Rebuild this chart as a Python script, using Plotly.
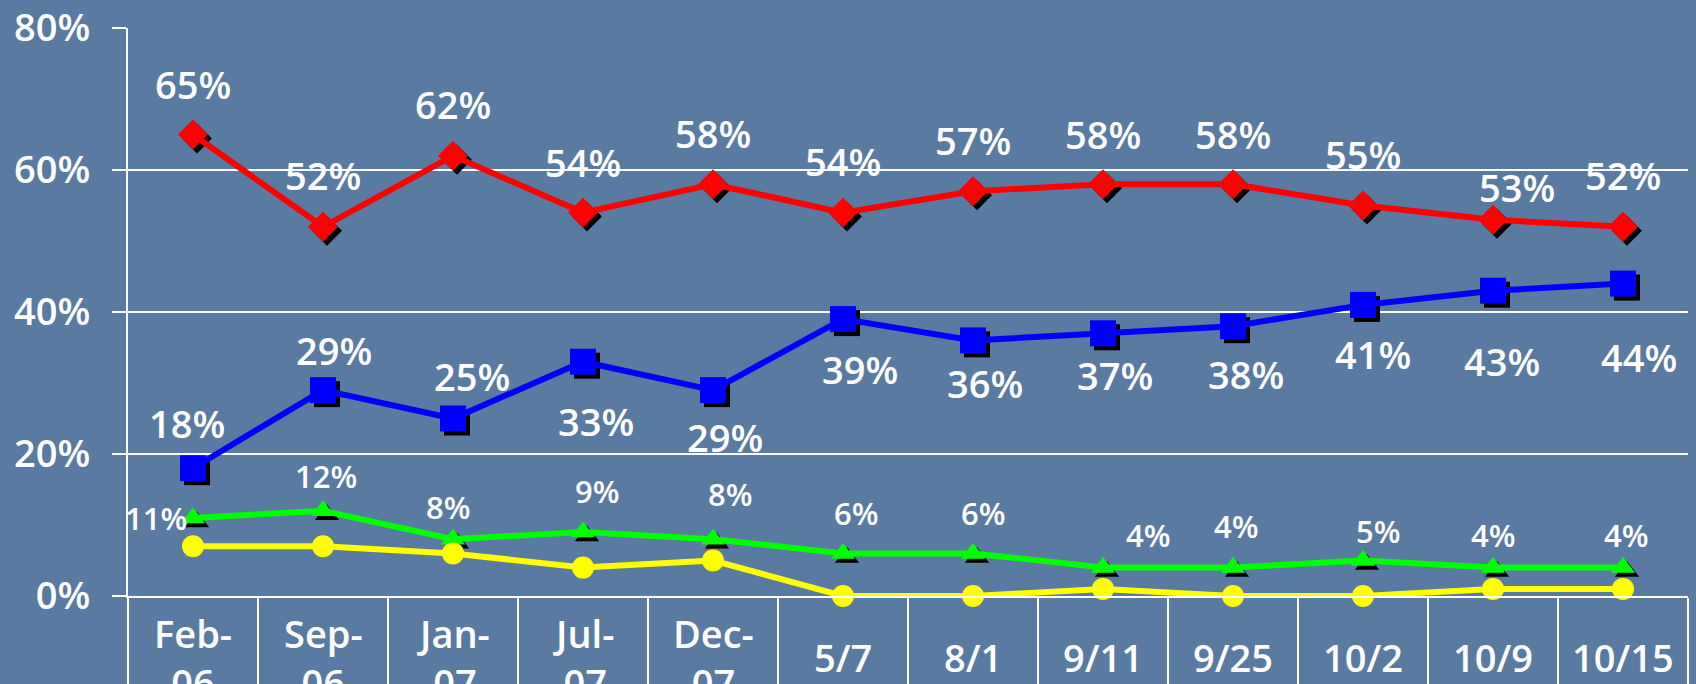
import plotly.graph_objects as go

# ---------------- data ----------------
categories = ["Feb-06", "Sep-06", "Jan-07", "Jul-07", "Dec-07", "5/7", "8/1",
              "9/11", "9/25", "10/2", "10/9", "10/15"]
tick_text = ["Feb-<br>06", "Sep-<br>06", "Jan-<br>07", "Jul-<br>07", "Dec-<br>07",
             "5/7", "8/1", "9/11", "9/25", "10/2", "10/9", "10/15"]
red_values = [65, 52, 62, 54, 58, 54, 57, 58, 58, 55, 53, 52]
blue_values = [18, 29, 25, 33, 29, 39, 36, 37, 38, 41, 43, 44]
green_values = [11, 12, 8, 9, 8, 6, 6, 4, 4, 5, 4, 4]
yellow_values = [7, 7, 6, 4, 5, 0, 0, 1, 0, 0, 1, 1]
y_ticks = [0, 20, 40, 60, 80]
y_tick_text = ["0%", "20%", "40%", "60%", "80%"]

# ---------------- label placement (pixel offsets, style only) ----------------
red_dx = [0, 0, 0, 0, 0, 0, 0, 0, 0, 0, 24, 0]
red_dy = [51, 52, 52, 51, 51, 52, 51, 50, 50, 52, 33, 52]
blue_dx = [-6, 11, 19, 13, 12, 17, 12, 12, 13, 10, 9, 16]
blue_dy = [45, 40, 43, -59, -47, -50, -43, -42, -48, -49, -70, -73]
green_dx = [-37, 3, -5, 14, 17, 13, 10, 45, 3, 15, 0, 3]
green_dy = [0, 35, 32, 41, 45, 40, 40, 33, 42, 30, 33, 33]

W, H = 1696, 684
ML, MR, MT, MB = 128, 8, 28, 88
PW, PH = W - ML - MR, H - MT - MB
Y_MIN, Y_MAX = 0, 80
n = len(categories)
X_RANGE = [-0.5, n - 0.5]

SHADOW_PX = 4
dx_units = SHADOW_PX * (X_RANGE[1] - X_RANGE[0]) / PW
dy_units = SHADOW_PX * (Y_MAX - Y_MIN) / PH

BG = "#5a7ba1"
FONT = "Open Sans"
WEIGHT = 600

fig = go.Figure()

# invisible anchor trace for base axes
fig.add_trace(go.Scatter(x=categories, y=[None] * n, mode="lines",
                         showlegend=False, hoverinfo="skip", xaxis="x", yaxis="y"))

series = [
    (red_values, "#ff0000", "diamond", 23, True),
    (blue_values, "#0000ff", "square", 26, True),
    (green_values, "#00ff00", "triangle-up", 21, True),
    (yellow_values, "#ffff00", "circle", 22, False),
]

# shadows (offset overlay axes)
for vals, col, sym, size, shadow in series:
    if shadow:
        fig.add_trace(go.Scatter(x=categories, y=vals, mode="markers",
                                 marker=dict(symbol=sym, size=size, color="black",
                                             line=dict(width=0)),
                                 xaxis="x2", yaxis="y2", cliponaxis=False,
                                 showlegend=False, hoverinfo="skip"))

# main series
for vals, col, sym, size, shadow in series:
    fig.add_trace(go.Scatter(x=categories, y=vals, mode="lines+markers",
                             line=dict(color=col, width=6),
                             marker=dict(symbol=sym, size=size, color=col,
                                         line=dict(width=0)),
                             xaxis="x3", yaxis="y3", cliponaxis=False,
                             showlegend=False, hoverinfo="skip"))

annotations = []
for vals, dxs, dys, fsize in [(red_values, red_dx, red_dy, 38),
                              (blue_values, blue_dx, blue_dy, 38),
                              (green_values, green_dx, green_dy, 31)]:
    for c, v, dx, dy in zip(categories, vals, dxs, dys):
        annotations.append(dict(x=c, y=v, xref="x", yref="y", text=f"{v}%",
                                showarrow=False, xshift=dx, yshift=dy,
                                xanchor="center", yanchor="middle",
                                font=dict(family=FONT, size=fsize, color="white",
                                          weight=WEIGHT)))

for c, t in zip(categories, tick_text):
    annotations.append(dict(x=c, y=-(657 - (H - MB)) / PH, xref="x", yref="paper",
                            text=t, showarrow=False, xanchor="center", yanchor="middle",
                            font=dict(family=FONT, size=38, color="white",
                                      weight=WEIGHT)))

cat_axis = dict(type="category", categoryorder="array", categoryarray=categories)

fig.update_layout(
    width=W, height=H,
    margin=dict(l=ML, r=MR, t=MT, b=MB, autoexpand=False),
    paper_bgcolor=BG, plot_bgcolor=BG,
    showlegend=False, hovermode=False,
    font=dict(family=FONT, color="white"),
    xaxis=dict(**cat_axis, range=X_RANGE, showgrid=False, zeroline=False,
               showline=True, linecolor="white", linewidth=2,
               ticks="outside", tickson="boundaries", ticklen=110, tickwidth=2,
               tickcolor="white", showticklabels=False, fixedrange=True),
    yaxis=dict(range=[Y_MIN, Y_MAX], tickmode="array", tickvals=y_ticks,
               ticktext=y_tick_text,
               showgrid=True, gridcolor="white", gridwidth=2, zeroline=False,
               showline=True, linecolor="white", linewidth=2,
               ticks="outside", ticklen=14, tickwidth=2, tickcolor="white",
               ticklabelstandoff=14,
               tickfont=dict(family=FONT, size=38, color="white", weight=WEIGHT),
               fixedrange=True),
    xaxis2=dict(**cat_axis, overlaying="x", anchor="y2",
                range=[X_RANGE[0] - dx_units, X_RANGE[1] - dx_units], visible=False),
    yaxis2=dict(overlaying="y", anchor="x2",
                range=[Y_MIN + dy_units, Y_MAX + dy_units], visible=False),
    xaxis3=dict(**cat_axis, overlaying="x", anchor="y3", range=X_RANGE, visible=False),
    yaxis3=dict(overlaying="y", anchor="x3", range=[Y_MIN, Y_MAX], visible=False),
    annotations=annotations,
)

fig.write_html("out.html",
               config={"displayModeBar": False, "staticPlot": True},
               post_script="document.body.style.margin='0px';"
                           "document.body.style.overflow='hidden';"
                           "document.body.style.background='" + BG + "';")
